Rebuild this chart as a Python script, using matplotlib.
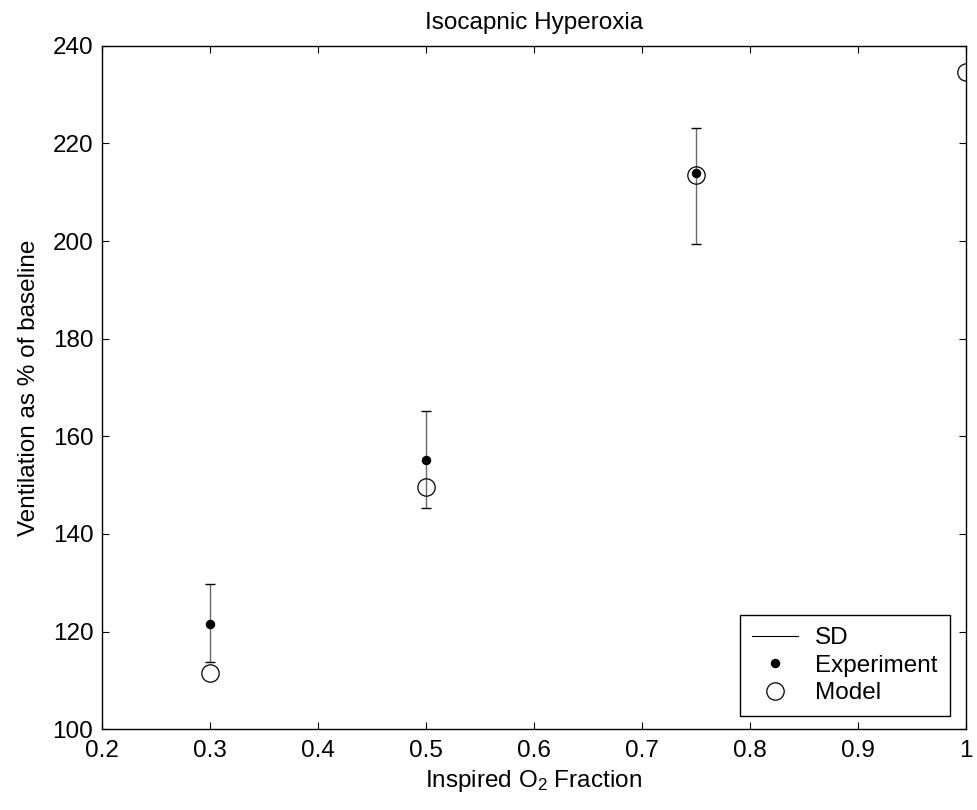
import matplotlib
matplotlib.use("Agg")
import matplotlib.pyplot as plt
from matplotlib.lines import Line2D

plt.rcParams['font.family'] = ['Liberation Sans', 'DejaVu Sans']
plt.rcParams['mathtext.fontset'] = 'custom'
plt.rcParams['mathtext.rm'] = 'Liberation Sans'
plt.rcParams['mathtext.it'] = 'Liberation Sans'

# Data
o2_fraction_exp = [0.3, 0.5, 0.75]
experiment = [121.6, 155.2, 213.9]
sd_lower = [7.8, 9.9, 14.6]
sd_upper = [8.2, 10.0, 9.2]
o2_fraction_model = [0.3, 0.5, 0.75, 1.0]
model = [111.5, 149.7, 213.5, 234.6]

x_ticks = [0.2, 0.3, 0.4, 0.5, 0.6, 0.7, 0.8, 0.9, 1.0]
x_tick_labels = ['0.2', '0.3', '0.4', '0.5', '0.6', '0.7', '0.8', '0.9', '1']
y_ticks = [100, 120, 140, 160, 180, 200, 220, 240]

FS = 17.5

fig = plt.figure(figsize=(9.77, 8.10), dpi=100)
ax = fig.add_axes([0.104, 0.0996, 0.8847, 0.844])

eb = ax.errorbar(o2_fraction_exp, experiment, yerr=[sd_lower, sd_upper], fmt='none',
                 ecolor='#6a6a6a', elinewidth=1.0, capsize=3.8, capthick=1.0, zorder=2)
for cap in eb[1]:
    cap.set_color('black')
    cap.set_markeredgecolor('black')
ax.plot(o2_fraction_exp, experiment, linestyle='none', marker='o', markersize=5.8,
        color='black', zorder=4)
ax.plot(o2_fraction_model, model, linestyle='none', marker='o', markersize=12.5,
        markerfacecolor='none', markeredgecolor='black', markeredgewidth=0.9,
        zorder=3, clip_on=True)

ax.set_xlim(0.2, 1.0)
ax.set_ylim(100, 240)
ax.set_xticks(x_ticks)
ax.set_xticklabels(x_tick_labels)
ax.set_yticks(y_ticks)
ax.tick_params(direction='in', top=True, right=True, length=5, width=0.8,
               labelsize=FS)
ax.tick_params(axis='x', pad=8)
ax.tick_params(axis='y', pad=6)
for s in ax.spines.values():
    s.set_linewidth(1.0)

ax.set_title('Isocapnic Hyperoxia', fontsize=FS, pad=12)
ax.set_xlabel('Inspired O$_2$ Fraction', fontsize=FS, labelpad=4)
ax.set_ylabel('Ventilation as % of baseline', fontsize=FS, labelpad=9)

handles = [
    Line2D([], [], color='black', linewidth=0.8),
    Line2D([], [], linestyle='none', marker='o', markersize=5.8, color='black'),
    Line2D([], [], linestyle='none', marker='o', markersize=12.5,
           markerfacecolor='none', markeredgecolor='black', markeredgewidth=0.9),
]
leg = ax.legend(handles, ['SD', 'Experiment', 'Model'], loc='lower right',
                bbox_to_anchor=(0.981, 0.019), fontsize=FS, frameon=True,
                fancybox=False, edgecolor='black', framealpha=1,
                handlelength=1.9, handletextpad=0.7, labelspacing=0.22,
                borderpad=0.5, borderaxespad=0.0)
leg.get_frame().set_linewidth(1.0)

fig.savefig('out.png', dpi=100)
